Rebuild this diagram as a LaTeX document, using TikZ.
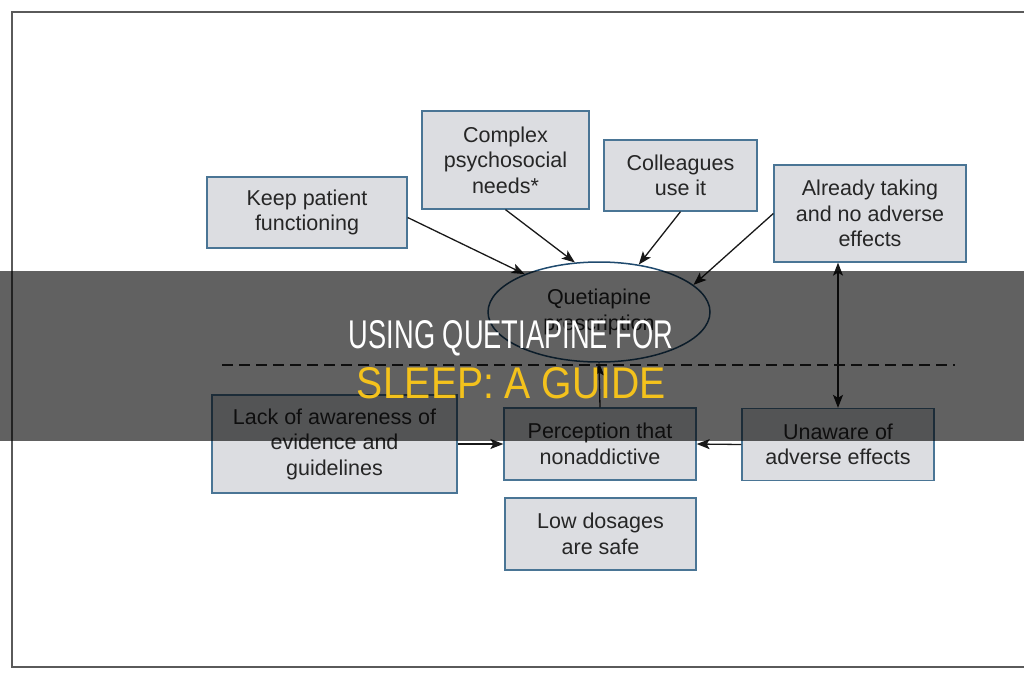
\documentclass[tikz,border=0pt]{standalone}
\usepackage{fontspec}
\setmainfont{Liberation Sans}
\usetikzlibrary{arrows.meta,shapes.geometric}
\definecolor{boxfill}{HTML}{DCDDE1}
\definecolor{boxline}{HTML}{4A7595}
\definecolor{ellline}{HTML}{1F4A6E}
\definecolor{titleyellow}{HTML}{F4C21C}
\definecolor{framegray}{HTML}{5A5A5A}

\begin{document}
\begin{tikzpicture}[x=1pt, y=-1pt,
  box/.style={draw=boxline, line width=1.3pt, fill=boxfill, text=black!85,
    align=center, inner sep=0pt, font=\fontsize{21.5}{25.5}\selectfont},
  arr/.style={-{Stealth[length=13pt,width=10pt,inset=3pt]}, line width=1.3pt, black!90},
  dblarr/.style={{Stealth[length=13pt,width=10pt,inset=3pt]}-{Stealth[length=13pt,width=10pt,inset=3pt]}, line width=1.3pt, black!90},
  sep/.style={dash pattern=on 11pt off 6pt, line width=1.5pt, black!85}]
  \useasboundingbox (0,0) rectangle (1024,680);
  \draw[framegray, line width=2pt] (1030,12) -- (12,12) -- (12,667) -- (1030,667);

  \node[box, minimum width=200pt, minimum height=71pt] (keep) at (307,212.5) {Keep patient\\functioning};
  \node[box, minimum width=167pt, minimum height=98pt] (complex) at (505.5,160) {Complex\\psychosocial\\needs*};
  \node[box, minimum width=153pt, minimum height=71pt] (colleagues) at (680.5,175.5) {Colleagues\\use it};
  \node[box, minimum width=192pt, minimum height=97pt] (already) at (870,213.5) {Already taking\\and no adverse\\effects};
  \node[ellipse, draw=ellline, line width=1.5pt, fill=white, text=black!85, align=center,
    inner sep=0pt, minimum width=222pt, minimum height=100pt,
    font=\fontsize{21.5}{25.5}\selectfont] (quet) at (599,312) {Quetiapine\\prescription};
  \node[box, minimum width=245pt, minimum height=98pt] (lack) at (334.5,444) {Lack of awareness of\\evidence and\\guidelines};
  \node[box, minimum width=192pt, minimum height=72pt] (perc) at (600,444) {Perception that\\nonaddictive};
  \node[box, minimum width=192pt, minimum height=72pt] (unaware) at (838,444.5) {Unaware of\\adverse effects};
  \node[box, minimum width=191pt, minimum height=72pt] (low) at (600.5,534) {Low dosages\\are safe};

  \draw[arr] ([yshift=-5pt]keep.east) -- (quet.153);
  \draw[arr] (complex.south) -- (quet.116);
  \draw[arr] (colleagues.south) -- (quet.50);
  \draw[arr] (already.west) -- (quet.16);
  \draw[arr] (perc.north) -- (quet.south);
  \draw[arr] (lack.east) -- (perc.west);
  \draw[arr] (unaware.west) -- (perc.east);
  \draw[dblarr] (unaware.north) -- (unaware.north |- already.south);

  \coordinate (sepl) at (222,365);
  \coordinate (sepr) at (955,365);
  \draw[sep] (sepl) -- (sepr);

  \fill[black, opacity=0.62] (0,271) rectangle (1024,441);
  \node[text=white, inner sep=0pt, anchor=base] (title1) at (511,348)
    {\resizebox{324pt}{28pt}{USING QUETIAPINE FOR}};
  \node[text=titleyellow, inner sep=0pt, anchor=base] (title2) at (511.5,398)
    {\resizebox{309pt}{31pt}{SLEEP: A GUIDE}};
\end{tikzpicture}
\end{document}
